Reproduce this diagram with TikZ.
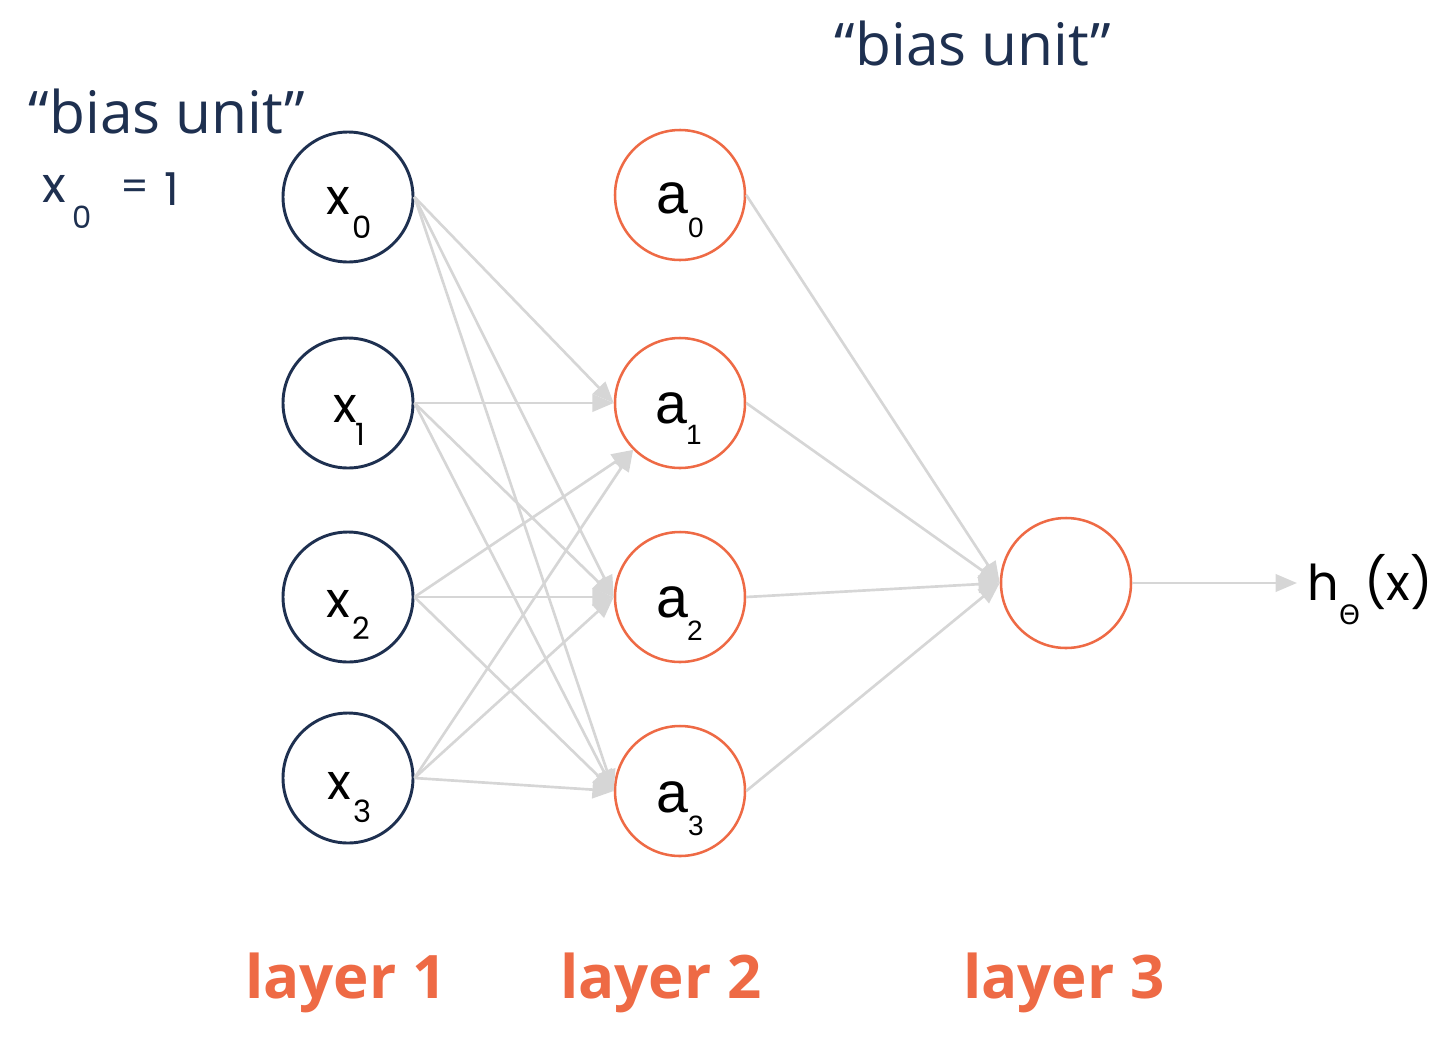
\documentclass[tikz,border=0pt]{standalone}
\usepackage{fontspec}
\setmainfont{Open Sans}
\newfontfamily\arialf{Liberation Sans}
\newfontfamily\geof{Poppins}
\newfontfamily\greekf{DejaVu Sans}
\usetikzlibrary{arrows.meta}
\definecolor{navy}{HTML}{1E3050}
\definecolor{orng}{HTML}{EE6A45}
\definecolor{edgegray}{HTML}{D6D6D6}
\tikzset{
  inunit/.style={circle, draw=navy, line width=2.2pt, minimum size=97.5pt, inner sep=0pt, fill=white},
  hidunit/.style={circle, draw=orng, line width=1.9pt, minimum size=97.5pt, inner sep=0pt, fill=white},
  conn/.style={draw=edgegray, line width=2pt, -{Triangle[length=16pt,width=13pt]}},
  lbl/.style={anchor=base west, inner sep=0pt, outer sep=0pt},
  xmain/.style={lbl, font=\geof\fontsize{37}{37}\selectfont},
  xsub/.style={lbl, font=\geof\fontsize{23}{23}\selectfont},
  amain/.style={lbl, font=\arialf\fontsize{43}{43}\selectfont},
  asub/.style={lbl, font=\arialf\fontsize{21}{21}\selectfont},
  biastxt/.style={anchor=base, inner sep=0pt, text=navy, font=\fontsize{44}{50}\selectfont},
  layertxt/.style={anchor=base west, inner sep=0pt, text=orng, font=\bfseries\fontsize{45}{50}\selectfont},
}
\begin{document}
\begin{tikzpicture}[x=0.75pt,y=-0.75pt]
\useasboundingbox (0,0) rectangle (1448,1050);

% units
\node[inunit] (x0) at (348,197) {};
\node[inunit] (x1) at (348,403) {};
\node[inunit] (x2) at (348,597) {};
\node[inunit] (x3) at (348,778) {};
\node[hidunit] (a0) at (680,195) {};
\node[hidunit] (a1) at (680,403) {};
\node[hidunit] (a2) at (680,597) {};
\node[hidunit] (a3) at (680,791) {};
\node[hidunit] (out) at (1066,583) {};

% connectors
\draw[conn] (x0.east) -- (a1.west);
\draw[conn] (x1.east) -- (a1.west);
\draw[conn] (x2.east) -- (a1.225);
\draw[conn] (x3.east) -- (a1.225);
\foreach \i in {0,1,2,3}{
  \draw[conn] (x\i.east) -- (a2.west);
  \draw[conn] (x\i.east) -- (a3.west);
}
\foreach \j in {0,1,2,3}{
  \draw[conn] (a\j.east) -- (out.west);
}
\coordinate (hend) at (1297,583);
\draw[conn] (out.east) -- (hend);

% unit labels
\node[xmain] (x0l) at (326,214) {x};
\node[xsub] (x0s) at (352,238) {0};
\node[xmain] (x1l) at (333,422) {x};
\node[xsub] (x1s) at (355,445) {1};
\node[xmain] (x2l) at (326,617) {x};
\node[xsub] (x2s) at (352,639) {2};
\node[xmain] (x3l) at (327,799) {x};
\node[xsub] (x3s) at (353,822) {3};

\node[amain] (a0l) at (656,213) {a};
\node[asub] (a0s) at (688,237) {0};
\node[amain] (a1l) at (655,423) {a};
\node[asub] (a1s) at (686,444) {1};
\node[amain] (a2l) at (656,617) {a};
\node[asub] (a2s) at (687,640) {2};
\node[amain] (a3l) at (656,812) {a};
\node[asub] (a3s) at (688,835) {3};

% output label
\node[xmain] (hl) at (1307,600) {h};
\node[lbl, font=\greekf\fontsize{20}{20}\selectfont] (hs) at (1339,624) {Θ};
\node[xmain] (hx) at (1364,600) {(x)};

% bias unit texts
\node[biastxt] (bias1) at (167,133) {“bias unit”};
\node[biastxt] (bias2) at (973,65) {“bias unit”};
\node[lbl, text=navy, font=\geof\fontsize{37}{37}\selectfont] (fx) at (42,202) {x};
\node[lbl, text=navy, font=\geof\fontsize{23}{23}\selectfont] (fxs) at (72,228) {0};
\node[lbl, text=navy, font=\geof\fontsize{30}{30}\selectfont] (feq) at (120,200) {=};
\node[lbl, text=navy, font=\geof\fontsize{34}{34}\selectfont] (fone) at (164,205) {1};

% layer labels
\node[layertxt] (L1) at (245,998) {layer 1};
\node[layertxt] (L2) at (560,998) {layer 2};
\node[layertxt] (L3) at (963,998) {layer 3};
\end{tikzpicture}
\end{document}
